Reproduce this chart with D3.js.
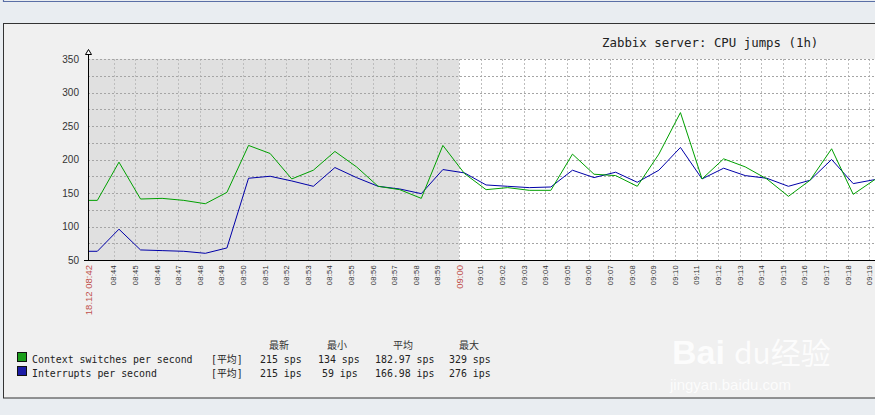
<!DOCTYPE html>
<html>
<head>
<meta charset="utf-8">
<script src="https://cdn.jsdelivr.net/npm/d3@7"></script>
<style>
  html, body { margin: 0; padding: 0; background: #e9edf1; }
  svg { display: block; }
</style>
</head>
<body>
<svg id="chart" width="875" height="415"></svg>
<script>
// ---- data ----
const times = ["08:42:49","08:43:15","08:44:15","08:45:15","08:46:15","08:47:15","08:48:15","08:49:15",
  "08:50:15","08:51:15","08:52:15","08:53:15","08:54:15","08:55:15","08:56:15","08:57:15","08:58:15",
  "08:59:15","09:00:15","09:01:15","09:02:15","09:03:15","09:04:15","09:05:15","09:06:15","09:07:15",
  "09:08:15","09:09:15","09:10:15","09:11:15","09:12:15","09:13:15","09:14:15","09:15:15","09:16:15",
  "09:17:15","09:18:15","09:19:15"];
const contextSwitches = [139,139,196,141,142,139,134,151,221,209,171,184,212,189,160,155,142,221,
  179,155,158,154,154,208,178,176,160,208,270,171,201,189,171,145,169,216,148,170];
const interrupts = [63,63,96,65,64,63,60,68,172,175,168,160,188,173,160,156,149,185,
  180,162,160,158,159,184,173,181,166,184,218,171,187,176,172,160,169,200,164,170];
const yTicks = [50,100,150,200,250,300,350];
const yGrid = [75,125,175,225,275,325,350,300,250,200,150,100];
const timeStart = "08:42:49", timeEnd = "09:20:00", workStart = "09:00:00";
const title = "Zabbix server: CPU jumps (1h)";
const legendHeader = ["最新","最小","平均","最大"];
const legendNames = ["Context switches per second","Interrupts per second"];
const legendFunc = "[平均]";
const legendLast = ["215 sps","215 ips"];
const legendMin = ["134 sps","59 ips"];
const legendAvg = ["182.97 sps","166.98 ips"];
const legendMax = ["329 sps","276 ips"];
const colors = ["#00a000","#0000a8"];
const fillColors = ["#1a9e1a","#1c1ca6"];

(function () {
// ---- setup ----
const parse = s => { const [h,m,sec] = s.split(":").map(Number); return new Date(2023,11,18,h,m,sec); };
const svg = d3.select("#chart");
const W = 875, H = 415;
const pLeft = 88, pTop = 59, pBottom = 260, pRight = 891;

const x = d3.scaleTime().domain([parse(timeStart), parse(timeEnd)]).range([pLeft, pRight]);
const y = d3.scaleLinear().domain([50, 350]).range([pBottom, pTop]);

// page background & upper line
svg.append("rect").attr("width", W).attr("height", H).attr("fill", "#e9edf1");
svg.append("path").attr("d", "M3.5,0 V1.5 H875").attr("fill","none").attr("stroke","#5a6fa6").attr("stroke-width",1.2);

// frame
svg.append("rect").attr("x", 3.5).attr("y", 23.5).attr("width", 900).attr("height", 374.5)
  .attr("fill", "#f0f0f0").attr("stroke", "#333").attr("stroke-width", 1);

// plot backgrounds
const xw = x(parse(workStart));
svg.append("rect").attr("x", pLeft).attr("y", pTop).attr("width", xw - pLeft).attr("height", pBottom - pTop).attr("fill", "#e0e0e0");
svg.append("rect").attr("x", xw).attr("y", pTop).attr("width", pRight - xw).attr("height", pBottom - pTop).attr("fill", "#ffffff");

// vertical grid (each minute)
const minuteTicks = d3.timeMinute.range(d3.timeMinute.offset(d3.timeMinute.floor(parse(timeStart)), 2), parse(timeEnd));
svg.append("g").selectAll("line").data(minuteTicks).join("line")
  .attr("x1", d => Math.round(x(d)) + 0.5).attr("x2", d => Math.round(x(d)) + 0.5)
  .attr("y1", pTop).attr("y2", pBottom)
  .attr("stroke", "#bdbdbd").attr("stroke-dasharray", "2,2");

// horizontal grid
svg.append("g").selectAll("line").data(yGrid).join("line")
  .attr("x1", pLeft).attr("x2", pRight)
  .attr("y1", d => Math.round(y(d)) + 0.5).attr("y2", d => Math.round(y(d)) + 0.5)
  .attr("stroke", "#a5a5a5").attr("stroke-dasharray", "2,2");

// lines
const series = [contextSwitches, interrupts];
const line = d3.line().x(d => x(d.t)).y(d => y(d.v));
[1, 0].forEach(i => {
  const pts = times.map((t, k) => ({ t: parse(t), v: series[i][k] }));
  svg.append("path").datum(pts).attr("d", line)
    .attr("fill", "none").attr("stroke", colors[i]).attr("stroke-width", 1);
});

// axes
svg.append("line").attr("x1", pLeft + 0.5).attr("x2", pLeft + 0.5).attr("y1", pBottom).attr("y2", 52).attr("stroke", "#000");
svg.append("path").attr("d", `M${pLeft - 2.5},54.5 L${pLeft + 0.5},49.5 L${pLeft + 3.5},54.5 Z`)
  .attr("fill", "#fff").attr("stroke", "#000").attr("stroke-width", 1);
svg.append("line").attr("x1", 84).attr("x2", pRight).attr("y1", pBottom + 0.5).attr("y2", pBottom + 0.5).attr("stroke", "#000");

// y labels
svg.append("g").selectAll("text").data(yTicks).join("text")
  .attr("x", 79).attr("y", d => y(d) + 3.8)
  .attr("text-anchor", "end")
  .attr("font-family", "Liberation Sans, Arial, sans-serif").attr("font-size", 10)
  .attr("fill", "#333").text(d => d);

// x labels
const fmt = d3.timeFormat("%H:%M");
const xLab = svg.append("g");
minuteTicks.forEach(d => {
  const isRed = fmt(d) === "09:00";
  xLab.append("text")
    .attr("transform", `translate(${x(d) + (isRed ? 3.5 : 2.8)},${pBottom + 5}) rotate(-90)`)
    .attr("text-anchor", "end")
    .attr("font-family", "Liberation Sans, Arial, sans-serif")
    .attr("font-size", isRed ? 9.5 : 7.5)
    .attr("letter-spacing", isRed ? 0 : 0.3)
    .attr("fill", isRed ? "#c0504d" : "#333")
    .text(fmt(d));
});
xLab.append("text")
  .attr("transform", `translate(${pLeft + 3.5},${pBottom + 5}) rotate(-90)`)
  .attr("text-anchor", "end")
  .attr("font-family", "Liberation Sans, Arial, sans-serif")
  .attr("font-size", 9.5).attr("fill", "#c0504d")
  .text(d3.timeFormat("%d.%m %H:%M")(parse(timeStart)));

// title
svg.append("text").attr("x", 602).attr("y", 46.5)
  .attr("font-family", "DejaVu Sans Mono, monospace").attr("font-size", 12.4)
  .attr("fill", "#222").text(title);

// watermark
svg.append("text").attr("x", 672).attr("y", 364)
  .attr("font-family", "Liberation Sans, Arial, sans-serif").attr("font-size", 34).attr("font-weight", "bold")
  .attr("fill", "#ffffff").attr("opacity", 0.8).text("Bai");
svg.append("text").attr("x", 734).attr("y", 364)
  .attr("font-family", "Noto Sans CJK SC, sans-serif").attr("font-size", 30)
  .attr("fill", "#ffffff").attr("opacity", 0.8).text("du经验");
svg.append("text").attr("x", 670).attr("y", 390)
  .attr("font-family", "Liberation Sans, Arial, sans-serif").attr("font-size", 15)
  .attr("fill", "#ffffff").attr("opacity", 0.8).text("jingyan.baidu.com");

// legend
const mono = "DejaVu Sans Mono, monospace";
const cjk = "Noto Sans CJK SC, sans-serif";
const hdrX = [269, 327, 393, 459];
legendHeader.forEach((h, i) => {
  svg.append("text").attr("x", hdrX[i]).attr("y", 349).attr("font-family", cjk)
    .attr("font-size", 10).attr("fill", "#333").text(h);
});
legendNames.forEach((n, i) => {
  const yy = 363 + i * 14;
  svg.append("rect").attr("x", 17.5).attr("y", yy - 10.5).attr("width", 9).attr("height", 9)
    .attr("fill", fillColors[i]).attr("stroke", "#111").attr("stroke-width", 1);
  svg.append("text").attr("x", 32).attr("y", yy).attr("font-family", mono).attr("font-size", 9.9).attr("fill", "#222").text(n);
  svg.append("text").attr("x", 211).attr("y", yy).attr("font-family", `${mono}, ${cjk}`).attr("font-size", 9.9).attr("fill", "#222").text(legendFunc);
  svg.append("text").attr("x", 260).attr("y", yy).attr("font-family", mono).attr("font-size", 9.9).attr("fill", "#222").text(legendLast[i]);
  svg.append("text").attr("x", i === 0 ? 318 : 322).attr("y", yy).attr("font-family", mono).attr("font-size", 9.9).attr("fill", "#222").text(legendMin[i]);
  svg.append("text").attr("x", 375).attr("y", yy).attr("font-family", mono).attr("font-size", 9.9).attr("fill", "#222").text(legendAvg[i]);
  svg.append("text").attr("x", 449).attr("y", yy).attr("font-family", mono).attr("font-size", 9.9).attr("fill", "#222").text(legendMax[i]);
});
})();
</script>
</body>
</html>
